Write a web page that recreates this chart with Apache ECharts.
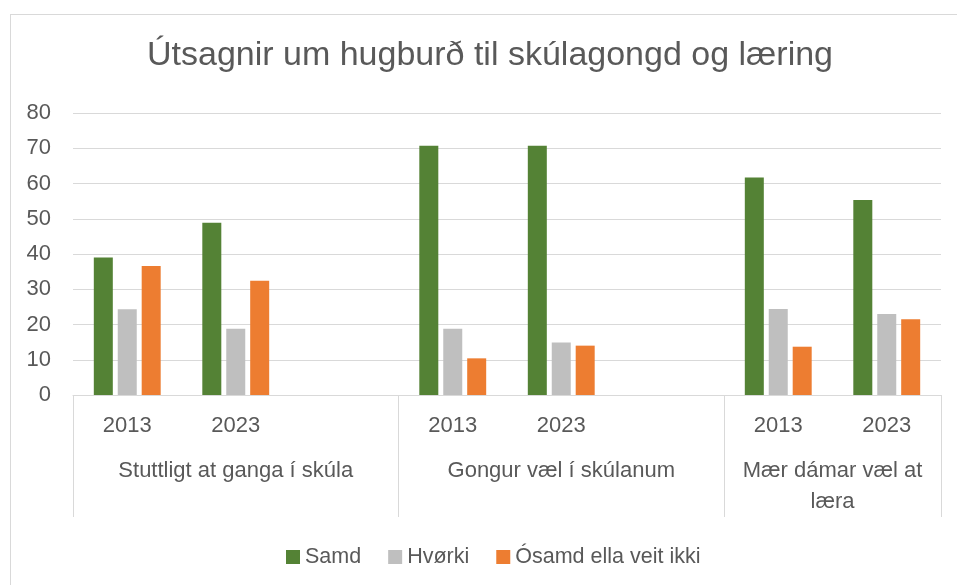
<!DOCTYPE html>
<html>
<head>
<meta charset="utf-8">
<script src="https://cdn.jsdelivr.net/npm/echarts@6/dist/echarts.min.js"></script>
<style>
  html, body { margin: 0; padding: 0; width: 957px; height: 585px; overflow: hidden; background: #fff; }
  #frame { position: absolute; left: 10px; top: 14px; width: 1000px; height: 700px; border: 1px solid #d9d9d9; box-sizing: border-box; }
  #chart { position: absolute; left: 0; top: 0; width: 957px; height: 585px; }
</style>
</head>
<body>
<div id="frame"></div>
<div id="chart"></div>
<script>
// ---- data ----
const chartTitle = 'Útsagnir um hugburð til skúlagongd og læring';
const categories = ['2013', '2023', '', '2013', '2023', '', '2013', '2023'];
const groupNames = ['Stuttligt at ganga í skúla', 'Gongur væl í skúlanum', 'Mær dámar væl at læra'];
const groupSpans = [3, 3, 2];
const seriesNames = ['Samd', 'Hvørki', 'Ósamd ella veit ikki'];
const samd   = [39.0, 48.9, null, 70.7, 70.7, null, 61.7, 55.3];
const hvorki = [24.3, 18.8, null, 18.8, 14.9, null, 24.4, 23.0];
const osamd  = [36.6, 32.4, null, 10.4, 14.0, null, 13.7, 21.5];
const yTicks = [0, 10, 20, 30, 40, 50, 60, 70, 80];

// ---- styling ----
const FONT = '"Liberation Sans", Arial, sans-serif';
const TXT = '#595959';
const LINE = '#d9d9d9';
const colors = ['#548235', '#bfbfbf', '#ed7d31'];
const gridLeft = 73, gridRight = 16;

const chart = echarts.init(document.getElementById('chart'), null, { renderer: 'canvas' });

const catWidth = (957 - gridLeft - gridRight) / categories.length;
const measureCtx = document.createElement('canvas').getContext('2d');
measureCtx.font = '22px ' + FONT;
function wrapText(text, maxW) {
  const words = text.split(' ');
  const lines = [];
  let cur = '';
  words.forEach(function (w) {
    const t = cur ? cur + ' ' + w : w;
    if (cur && measureCtx.measureText(t).width > maxW) { lines.push(cur); cur = w; }
    else { cur = t; }
  });
  lines.push(cur);
  return lines.join('\n');
}
const groupLabelAt = {};
let start = 0;
groupSpans.forEach(function (span, i) {
  const center = start + span / 2;
  groupLabelAt[center.toFixed(1)] = wrapText(groupNames[i], span * catWidth - 12);
  start += span;
});

const seriesData = [samd, hvorki, osamd];

chart.setOption({
  animation: false,
  backgroundColor: 'transparent',
  title: {
    text: chartTitle,
    left: 485,
    top: 34,
    textAlign: 'center',
    textStyle: { fontFamily: FONT, fontSize: 34, fontWeight: 'normal', color: TXT }
  },
  legend: {
    data: seriesNames,
    left: 281,
    top: 541,
    icon: 'rect',
    itemWidth: 14,
    itemHeight: 14,
    itemGap: 27,
    textStyle: { fontFamily: FONT, fontSize: 21.5, color: TXT }
  },
  grid: { left: gridLeft, right: gridRight, top: 113, bottom: 190, containLabel: false },
  xAxis: [
    {
      type: 'category',
      position: 'bottom',
      data: categories,
      axisLine: { show: true, lineStyle: { color: LINE, width: 1 } },
      axisTick: {
        show: true,
        length: 122,
        lineStyle: { color: LINE, width: 1 },
        interval: function (index) {
          let s = 0;
          for (let i = 0; i < groupSpans.length; i++) { if (index === s) return true; s += groupSpans[i]; }
          return false;
        }
      },
      axisLabel: { interval: 0, margin: 20, fontFamily: FONT, fontSize: 22, color: TXT },
      splitLine: { show: false }
    },
    {
      type: 'value',
      position: 'bottom',
      min: 0,
      max: categories.length,
      interval: 0.5,
      axisLine: { show: false },
      axisTick: { show: false },
      splitLine: { show: false },
      axisLabel: {
        margin: 60,
        lineHeight: 31,
        fontFamily: FONT, fontSize: 22, color: TXT,
        showMinLabel: true, showMaxLabel: true,
        formatter: function (v) { return groupLabelAt[Number(v).toFixed(1)] || ''; }
      }
    }
  ],
  yAxis: {
    type: 'value',
    min: yTicks[0],
    max: yTicks[yTicks.length - 1],
    interval: yTicks[1] - yTicks[0],
    axisLine: { show: false },
    axisTick: { show: false },
    axisLabel: { margin: 22, fontFamily: FONT, fontSize: 22, color: TXT },
    splitLine: { show: true, lineStyle: { color: LINE, width: 1 } }
  },
  series: seriesNames.map(function (name, i) {
    return {
      name: name,
      type: 'bar',
      xAxisIndex: 0,
      data: seriesData[i],
      barWidth: 19,
      barGap: '26%',
      itemStyle: { color: colors[i] }
    };
  })
});
</script>
</body>
</html>
